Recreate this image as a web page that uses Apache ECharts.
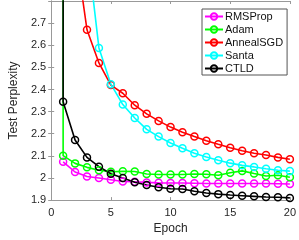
<!DOCTYPE html>
<html><head><meta charset="utf-8">
<script src="https://cdn.jsdelivr.net/npm/echarts@6/dist/echarts.min.js"></script>
<style>html,body{margin:0;padding:0;background:#fff}#c{width:299px;height:240px}</style>
</head><body><div id="c"></div>
<script>
const epochs = [1,2,3,4,5,6,7,8,9,10,11,12,13,14,15,16,17,18,19,20];
const rmsprop = [2.073,2.027,2.007,2.000,1.992,1.984,1.983,1.980,1.978,1.977,1.977,1.976,1.975,1.975,1.975,1.975,1.975,1.975,1.974,1.973];
const adam = [2.101,2.066,2.048,2.035,2.028,2.030,2.029,2.018,2.016,2.016,2.016,2.018,2.017,2.012,2.024,2.032,2.020,2.009,2.012,2.003];
const annealEpochs = [2,3,4,5,6,7,8,9,10,11,12,13,14,15,16,17,18,19,20];
const annealsgd = [3.05,2.670,2.520,2.420,2.383,2.329,2.290,2.258,2.230,2.207,2.187,2.168,2.152,2.137,2.123,2.112,2.104,2.093,2.085];
const santaEpochs = [3,4,5,6,7,8,9,10,11,12,13,14,15,16,17,18,19,20];
const santa = [3.05,2.588,2.424,2.332,2.271,2.220,2.187,2.158,2.134,2.112,2.095,2.080,2.067,2.057,2.050,2.042,2.035,2.031];
const ctld = [2.345,2.172,2.093,2.051,2.019,2.000,1.981,1.968,1.958,1.951,1.950,1.940,1.932,1.927,1.923,1.920,1.917,1.914,1.913,1.910];
const initialValue = 4.0; // off-chart starting perplexity for Adam and CTLD
const xTicks = [0,5,10,15,20];
const yTicks = [1.9,2.0,2.1,2.2,2.3,2.4,2.5,2.6,2.7];

function pts(xs, ys, start) {
  const d = xs.map((x,i)=>[x, ys[i]]);
  if (start !== undefined) d.unshift({value:[xs[0], start], symbol:'none'});
  return d;
}
function mk(name, color, data) {
  return {
    name, type:'line', data, clip:true, color,
    symbol:'circle', symbolSize:7,
    lineStyle:{width:1.6, color},
    itemStyle:{color:'rgba(255,255,255,0)', borderColor:color, borderWidth:1.5},
    emphasis:{disabled:true}, animation:false
  };
}
const font = 'Liberation Sans, Arial, Helvetica, sans-serif';
const axisCol = '#999';
const chart = echarts.init(document.getElementById('c'), null, {renderer:'canvas'});
chart.setOption({
  animation:false,
  grid:{left:37, right:9, top:1, bottom:33, containLabel:false},
  xAxis:[{
    type:'value', min:0, max:20, interval:5,
    name:'Epoch', nameLocation:'middle', nameGap:22,
    nameTextStyle:{fontFamily:font, fontSize:12, color:'#262626'},
    axisLine:{show:true, lineStyle:{color:axisCol, width:1}},
    axisTick:{show:true, inside:true, length:3, lineStyle:{color:axisCol}},
    axisLabel:{fontFamily:font, fontSize:11, color:'#262626', margin:7,
      formatter:v=>xTicks.includes(v)?String(v):''},
    splitLine:{show:false}
  },{
    type:'value', min:0, max:20, interval:5, position:'top',
    axisLine:{show:true, lineStyle:{color:axisCol, width:1}},
    axisTick:{show:true, inside:true, length:3, lineStyle:{color:axisCol}},
    axisLabel:{show:false}, splitLine:{show:false}
  }],
  yAxis:[{
    type:'value', min:1.9, max:2.8, interval:0.1,
    name:'Test Perplexity', nameLocation:'middle', nameGap:26,
    nameTextStyle:{fontFamily:font, fontSize:12, color:'#262626'},
    axisLine:{show:true, lineStyle:{color:axisCol, width:1}},
    axisTick:{show:true, inside:true, length:3, lineStyle:{color:axisCol}},
    axisLabel:{fontFamily:font, fontSize:11, color:'#262626', margin:5, showMaxLabel:false,
      formatter:v=>{const r=Math.round(v*10)/10; return yTicks.some(t=>Math.abs(t-r)<1e-6)?String(r):'';}},
    splitLine:{show:false}
  },{
    type:'value', min:1.9, max:2.8, interval:0.1, position:'right',
    axisLine:{show:true, lineStyle:{color:axisCol, width:1}},
    axisTick:{show:true, inside:true, length:3, lineStyle:{color:axisCol}},
    axisLabel:{show:false}, splitLine:{show:false}
  }],
  legend:{
    orient:'vertical', left:202, top:9, width:83,
    backgroundColor:'#fff', borderColor:'#555', borderWidth:1,
    padding:[2,4,1,2], itemGap:2, itemWidth:18, itemHeight:8,
    textStyle:{fontFamily:font, fontSize:11, color:'#111', padding:[0,0,0,-3]},
    data:['RMSProp','Adam','AnnealSGD','Santa','CTLD']
  },
  series:[
    mk('RMSProp','#ff00ff', pts(epochs, rmsprop)),
    mk('Adam','#00ff00', pts(epochs, adam, initialValue)),
    mk('AnnealSGD','#ff0000', pts(annealEpochs, annealsgd)),
    mk('Santa','#00ffff', pts(santaEpochs, santa)),
    mk('CTLD','#000000', pts(epochs, ctld, initialValue))
  ]
});
</script></body></html>
